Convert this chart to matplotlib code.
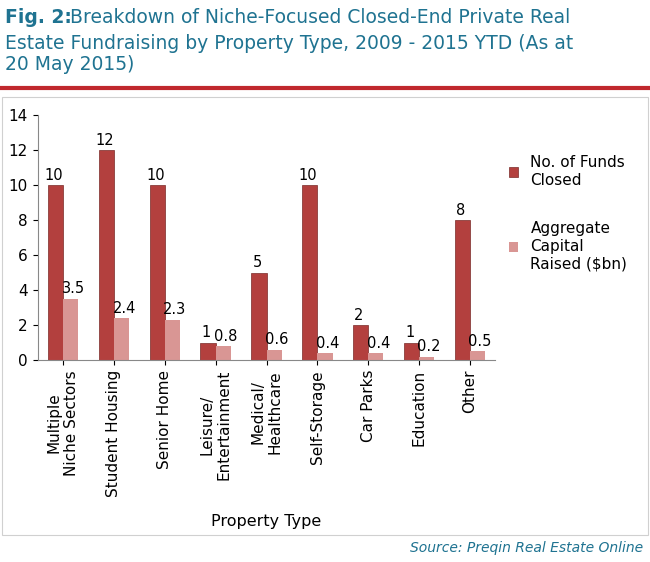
import matplotlib.pyplot as plt
import numpy as np
from matplotlib.patches import Rectangle

categories = ["Multiple\nNiche Sectors", "Student Housing", "Senior Home", "Leisure/\nEntertainment",
              "Medical/\nHealthcare", "Self-Storage", "Car Parks", "Education", "Other"]
funds_closed = [10, 12, 10, 1, 5, 10, 2, 1, 8]
capital_raised = [3.5, 2.4, 2.3, 0.8, 0.6, 0.4, 0.4, 0.2, 0.5]

DARK = "#b3403e"
LIGHT = "#d99694"
TEAL = "#1f7391"

fig = plt.figure(figsize=(6.5, 5.62), dpi=100)
fig.patch.set_facecolor("white")

fig.text(0.008, 0.985, "Fig. 2:", fontsize=13.5, color=TEAL, weight="bold", va="top")
fig.text(0.108, 0.985, "Breakdown of Niche-Focused Closed-End Private Real", fontsize=13.5, color=TEAL, va="top")
fig.text(0.008, 0.94, "Estate Fundraising by Property Type, 2009 - 2015 YTD (As at\n20 May 2015)",
         fontsize=13.5, color=TEAL, va="top", linespacing=1.15)
fig.add_artist(plt.Line2D([0, 1], [0.843, 0.843], color="#c0282d", lw=3, transform=fig.transFigure))
fig.add_artist(Rectangle((0.003, 0.048), 0.994, 0.78, transform=fig.transFigure,
                         fill=False, edgecolor="#d0d0d0", lw=0.8))

ax = fig.add_axes([0.058, 0.359, 0.704, 0.436])
x = np.arange(len(categories))
w = 0.3
b1 = ax.bar(x - w / 2, funds_closed, w, color=DARK, edgecolor="#7a2a28", lw=0.5, label="No. of Funds\nClosed")
b2 = ax.bar(x + w / 2, capital_raised, w, color=LIGHT, label="Aggregate\nCapital\nRaised ($bn)")
for r, v in zip(b1, funds_closed):
    ax.text(r.get_x() + r.get_width() / 2 - 0.03, v + 0.15, f"{v}", ha="center", va="bottom", fontsize=10.5)
for r, v in zip(b2, capital_raised):
    ax.text(r.get_x() + r.get_width() / 2 + 0.05, v + 0.15, f"{v}", ha="center", va="bottom", fontsize=10.5)

ax.set_ylim(0, 14)
ax.set_yticks(range(0, 15, 2))
ax.set_xlim(-0.5, len(categories) - 0.5)
ax.set_xticks(x)
ax.set_xticklabels(categories, rotation=90, fontsize=11)
ax.tick_params(axis="y", labelsize=11)
for s in ["top", "right"]:
    ax.spines[s].set_visible(False)
ax.spines["left"].set_color("#888888")
ax.spines["bottom"].set_color("#888888")
ax.set_xlabel("Property Type", fontsize=11.5, labelpad=12)

ax.legend(loc="center left", bbox_to_anchor=(1.0, 0.6), frameon=False, fontsize=11,
          handlelength=0.6, handleheight=0.6, labelspacing=2.2)

fig.text(0.99, 0.018, "Source: Preqin Real Estate Online", ha="right", fontsize=10,
         style="italic", color=TEAL)

fig.savefig("out.png", dpi=100)
